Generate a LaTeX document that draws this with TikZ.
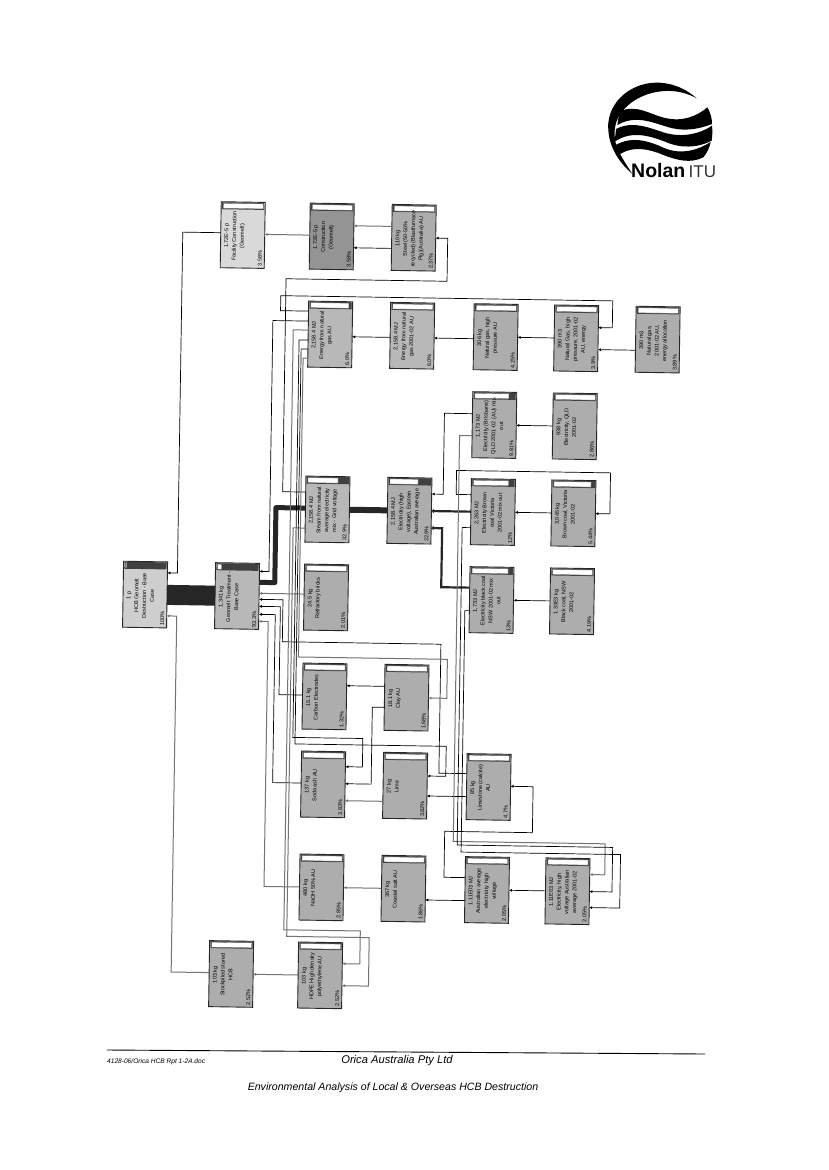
\documentclass[tikz,border=0pt]{standalone}
\usepackage{fontspec}
\setmainfont{Liberation Sans}
\usetikzlibrary{arrows.meta}
\definecolor{fLight}{gray}{0.85}
\definecolor{fHcb}{gray}{0.81}
\definecolor{fMid}{gray}{0.72}
\definecolor{fDark}{gray}{0.58}
\definecolor{fNorm}{gray}{0.68}
\tikzset{
  boxshape/.style={draw=black!85,line width=0.9pt,minimum width=44pt,minimum height=66pt,inner sep=0pt,outer sep=0pt},
  barshape/.style={fill=black!75,minimum width=42pt,minimum height=7pt,inner sep=0pt},
  whiteshape/.style={fill=white,draw=black!60,line width=0.3pt,minimum height=5pt,inner sep=0pt,anchor=west},
  boxtext/.style={rotate=90,anchor=north,font=\fontsize{5.5}{7.8}\selectfont,align=center,inner sep=0pt,text=black},
  pcttext/.style={rotate=90,font=\fontsize{5.5}{7}\selectfont,anchor=west,inner sep=0pt,text=black},
  conn/.style={draw=black,line width=0.7pt,-{Latex[length=3pt,width=3pt]}},
  gconn/.style={draw=black!55,line width=1pt,-{Latex[length=3pt,width=3pt]}},
  plain/.style={draw=black,line width=0.7pt},
  wideconn/.style={draw=black!85,line width=2.2pt,-{Latex[length=2.5pt,width=5pt]}},
  heavyconn/.style={draw=black!85,line width=5pt},
  hugeconn/.style={draw=black!85,line width=20pt},
  footsmall/.style={font=\fontsize{6.6}{9}\selectfont\itshape,inner sep=0pt},
  footmid/.style={font=\fontsize{11.2}{13}\selectfont\itshape,inner sep=0pt},
  logotext/.style={inner sep=0pt,anchor=base west}
}
% name, u, v, fill, white width, text, percent
\newcommand{\pbox}[7]{%
  \node[boxshape,fill=#4] (#1) at (#2,#3) {};
  \node[barshape] (#1bar) at (#2,#3-29) {};
  \node[whiteshape,minimum width=#5pt] (#1w) at (#2-20,#3-29) {};
  \node[boxtext] (#1txt) at (#2-18.5,#3+1) {#6};
  \node[pcttext] (#1pct) at (#2+17.5,#3+31) {#7};
}
\newcommand{\pE}[2]{([yshift={-1*(#2)*1pt}]#1.east)}
\newcommand{\pW}[2]{([yshift={-1*(#2)*1pt}]#1.west)}
\begin{document}
\begin{tikzpicture}[x=1pt,y=-1pt]
\useasboundingbox (0,0) rectangle (828,1170);
\fill[white] (0,0) rectangle (828,1170);
\begin{scope}[rotate around={-0.9:(300,600)},transform shape]
% row by row
\pbox{fac}{237}{236}{fLight}{40}{1.72E-5 p\\Facility Construction\\(Geomelt)}{3.58\%}
\pbox{eg}{326}{236}{fDark}{40}{1.72E-5 p\\Construction\\(Geomelt)}{3.58\%}
\pbox{steel}{408}{236}{fNorm}{40}{110 kg\\Steel (50-50\%\\recycled) (Blastfurnace\\Pig)(Australia) AU}{2.37\%}
\pbox{en1}{326}{334}{fMid}{38}{2,158.4 MJ\\Energy from natural\\gas AU}{6.0\%}
\pbox{en2}{408}{334}{fMid}{40}{2,158.4 MJ\\Energy from natural\\gas 2001-02 AU}{6.0\%}
\pbox{ng1}{491.5}{334}{fNorm}{40}{306 kg\\Natural gas, high\\pressure AU}{4.25\%}
\pbox{ng2}{572}{334}{fNorm}{40}{390 m3\\Natural Gas, high\\pressure, 2001-02\\AU, energy}{3.9\%}
\pbox{ng3}{653.5}{334}{fNorm}{40}{390 m3\\Natural gas,\\2001-02 AU,\\energy allocation}{3.89\%}
\pbox{eq}{491.5}{422}{fNorm}{34}{1,173 MJ\\Electricity (Brisbane)\\QLD 2001-02 (AU) mix\\out}{9.81\%}
\pbox{cq}{572}{422}{fNorm}{40}{938 kg\\Electricity, QLD\\2001-02}{2.86\%}
\pbox{st}{326}{509}{fMid}{30}{2,158.4 MJ\\Steam from natural\\average electricity\\mix - Grid voltage}{32.9\%}
\pbox{high}{408}{509}{fNorm}{28}{2,158.4 MJ\\Electricity (high\\voltage), Eastern\\Australian average}{22.9\%}
\pbox{ev}{491.5}{509}{fNorm}{35}{2,263 MJ\\Electricity Brown\\coal Victoria\\2001-02 mix out}{12\%}
\pbox{cv}{572}{509}{fNorm}{37}{3,045 kg\\Brown coal, Victoria\\2001-02}{5.44\%}
\pbox{hcb}{145}{597}{fHcb}{1}{1 p\\HCB Geomelt\\Destruction - Base\\Case}{100\%}
\pbox{geo}{237}{597}{fMid}{4}{1,341 kg\\Geomelt Treatment -\\Base Case}{93.3\%}
\pbox{refr}{326}{597}{fNorm}{40}{24.5 kg\\Refractory bricks}{2.01\%}
\pbox{en}{491.5}{597}{fNorm}{36}{1,733 MJ\\Electricity black coal\\NSW 2001-02 mix\\out}{13\%}
\pbox{cn}{572}{597}{fNorm}{40}{1.33E3 kg\\Black coal, NSW\\2001-02}{4.19\%}
\pbox{carb}{326}{696}{fNorm}{40}{15.1 kg\\Carbon Electrodes}{1.32\%}
\pbox{clay}{408}{696}{fNorm}{40}{18.1 kg\\Clay AU}{1.68\%}
\pbox{soda}{326}{784}{fNorm}{40}{137 kg\\Soda ash AU}{3.83\%}
\pbox{lime}{408}{784}{fNorm}{40}{27 kg\\Lime}{3.82\%}
\pbox{lst}{491.5}{784}{fNorm}{40}{85 kg\\Limestone (calcite)\\AU}{4.7\%}
\pbox{naoh}{326}{887}{fNorm}{40}{480 kg\\NaOH 50\% AU}{2.85\%}
\pbox{salt}{408}{887}{fNorm}{40}{367 kg\\Coastal salt AU}{1.86\%}
\pbox{aus}{491.5}{887}{fNorm}{40}{1.11E03 MJ\\Australian average\\electricity high\\voltage}{2.05\%}
\pbox{eav}{572}{887}{fNorm}{40}{1.11E03 MJ\\Electricity, high\\voltage Australian\\average 2001-02}{2.05\%}
\pbox{stk}{237}{975}{fNorm}{40}{103 kg\\Stockpiled stored\\HCB}{2.52\%}
\pbox{hdpe}{326}{975}{fNorm}{40}{103 kg\\HDPE High density\\polyethylene AU}{2.52\%}
% heavy flows
\draw[hugeconn] \pE{hcb}{0} -- \pW{geo}{0};
\draw[heavyconn,line join=round] \pW{st}{-1} -- (274.5,508) -- (274.5,583) -- \pE{geo}{-14};
\draw[heavyconn,line width=6pt] \pE{st}{0} -- \pW{high}{0};
\draw[wideconn] \pW{ev}{0} -- \pE{high}{0};
\draw[wideconn] \pW{en}{-12} -- (441,585) -- (441,526) -- \pE{high}{17};
% upper part
\draw[conn] \pW{fac}{-2} -- (177,234) -- (177,575) -- \pE{hcb}{-22};
\draw[gconn] \pW{eg}{-1} -- \pE{fac}{-1};
\draw[gconn] \pW{steel}{-11} -- \pE{eg}{-11};
\draw[conn] \pW{steel}{11} -- \pE{eg}{11};
\draw[conn] \pW{st}{-17} -- (281,492) -- (281,279) -- (442,279) -- (442,236) -- \pE{steel}{0};
\draw[conn] \pW{en1}{-23} -- (276,311) -- (276,296) -- (608,296) -- (608,323) -- \pE{ng2}{-11};
\draw[conn] \pW{en2}{2} -- \pE{en1}{2};
\draw[conn] \pW{ng1}{2} -- \pE{en2}{2};
\draw[conn] \pW{ng2}{0} -- \pE{ng1}{0};
\draw[conn] \pW{ng3}{11} -- \pE{ng2}{11};
\draw[conn] \pW{cq}{0} -- \pE{eq}{0};
\draw[conn] \pW{eq}{-11} -- (441.5,411) -- (441.5,492) -- \pE{high}{-17};
\draw[conn] \pW{cv}{0} -- \pE{ev}{0};
\draw[conn] \pW{ev}{-17} -- (454.5,492) -- (454.5,468) -- (608.5,468) -- (608.5,509) -- \pE{cv}{0};
\draw[conn] \pW{cn}{0} -- \pE{en}{0};
% into the Geomelt treatment
\draw[conn] \pW{en1}{-13} -- (268.5,321) -- (268.5,572) -- \pE{geo}{-25};
\draw[gconn] \pW{refr}{-3} -- \pE{geo}{-3};
\draw[conn] \pW{lst}{-13} -- (441.6,771) -- (441.6,642) -- (283,642) -- (283,600) -- \pE{geo}{3};
\draw[conn] \pW{carb}{-1} -- (280.5,695) -- (280.5,607) -- \pE{geo}{10};
\draw[conn] \pW{soda}{-1} -- (275.5,783) -- (275.5,615) -- \pE{geo}{18};
\draw[gconn] \pW{naoh}{0} -- (268.5,887) -- (268.5,622) -- \pE{geo}{25};
% energy and steam buses
\draw[gconn] \pW{en1}{-4} -- (289,330) -- (289,930) -- (365.5,930) -- (365.5,963) -- \pE{hdpe}{-12};
\draw[gconn] \pW{st}{19} -- (292,528) -- (292,936.5) -- (374.5,936.5) -- (374.5,985) -- \pE{hdpe}{10};
\draw[conn] \pW{en1}{6} -- (295,340) -- (295,737.5) -- (365,737.5) -- (365,766) -- \pE{soda}{-18};
\draw[conn] \pW{en1}{15} -- (297.2,349) -- (297.2,744) -- (448.5,744) -- (448.5,774) -- \pE{lime}{-10};
\draw[gconn] \pW{en1}{24} -- (299.3,358) -- (299.3,657) -- (448.3,657) -- (448.3,696) -- \pE{clay}{0};
% lower part
\draw[conn] \pW{clay}{-11} -- \pE{carb}{-11};
\draw[conn] \pW{clay}{10} -- (374,706) -- (374,783) -- \pE{soda}{-1};
\draw[gconn] \pW{lime}{16} -- \pE{soda}{16};
\draw[conn] \pW{lst}{10} -- \pE{lime}{10};
\draw[conn] \pW{aus}{-12} -- (448.3,875) -- (448.3,829) -- (536,829) -- (536,783) -- \pE{lst}{-1};
\draw[gconn] \pW{salt}{0} -- \pE{naoh}{0};
\draw[conn] \pW{aus}{11} -- \pE{salt}{11};
\draw[conn] \pW{eav}{0} -- \pE{aus}{0};
\draw[gconn] \pW{hdpe}{0} -- \pE{stk}{0};
\draw[gconn] \pW{stk}{-1} -- (177,974) -- (177,618) -- \pE{hcb}{21};
\draw[gconn] \pW{eq}{11} -- (457,433) -- (457,839) -- (609,839) -- (609,870) -- \pE{eav}{-17};
\draw[conn] \pW{ev}{16} -- (461,525) -- (461,842.5) -- (616.5,842.5) -- (616.5,887) -- \pE{eav}{0};
\draw[conn] \pW{en}{11} -- (465,608) -- (465,849.5) -- (624.5,849.5) -- (624.5,903) -- \pE{eav}{16};
\end{scope}
% footer
\coordinate (ruleA) at (107,1050);
\coordinate (ruleB) at (705,1054);
\draw[plain,line width=0.9pt] (ruleA) -- (ruleB);
\node[footsmall,anchor=west] (fa) at (107,1062) {4128-06/Orica HCB Rpt 1-2A.doc};
\node[footmid] (fb) at (397,1061) {Orica Australia Pty Ltd};
\node[footmid,font=\fontsize{10.6}{13}\selectfont\itshape] (fc) at (393,1088) {Environmental Analysis of Local \& Overseas HCB Destruction};
% logo
\begin{scope}[shift={(600,60)},x=0.33333pt,y=-0.33333pt]
\fill[black] (290,115) .. controls (240,70) and (170,55) .. (110,80) .. controls (50,105) and (20,160) .. (25,210) .. controls (28,265) and (60,310) .. (97,342) .. controls (70,300) and (50,270) .. (45,240) .. controls (40,200) and (50,170) .. (75,145) .. controls (115,100) and (210,70) .. (290,115) -- cycle;
\fill[black] (58,155) .. controls (110,130) and (150,165) .. (200,175) .. controls (245,185) and (290,170) .. (322,142) .. controls (332,160) and (336,175) .. (336,192) .. controls (290,210) and (245,215) .. (200,200) .. controls (150,185) and (105,165) .. (52,195) -- cycle;
\fill[black] (48,207) .. controls (100,180) and (150,205) .. (200,220) .. controls (250,232) and (300,222) .. (336,197) .. controls (338,212) and (337,228) .. (335,242) .. controls (290,265) and (240,265) .. (195,245) .. controls (150,228) and (95,210) .. (44,245) -- cycle;
\fill[black] (45,256) .. controls (100,225) and (150,245) .. (195,265) .. controls (245,285) and (295,270) .. (332,246) .. controls (328,265) and (320,280) .. (310,292) .. controls (270,312) and (230,300) .. (190,285) .. controls (150,268) and (100,255) .. (56,285) -- cycle;
\end{scope}
\node[logotext,font=\fontsize{19.5}{20}\selectfont\bfseries] (lgn) at (631,177) {Nolan};
\node[logotext,font=\fontsize{17}{20}\selectfont,text=black!80] (lgi) at (688.5,177) {ITU};
\end{tikzpicture}
\end{document}
